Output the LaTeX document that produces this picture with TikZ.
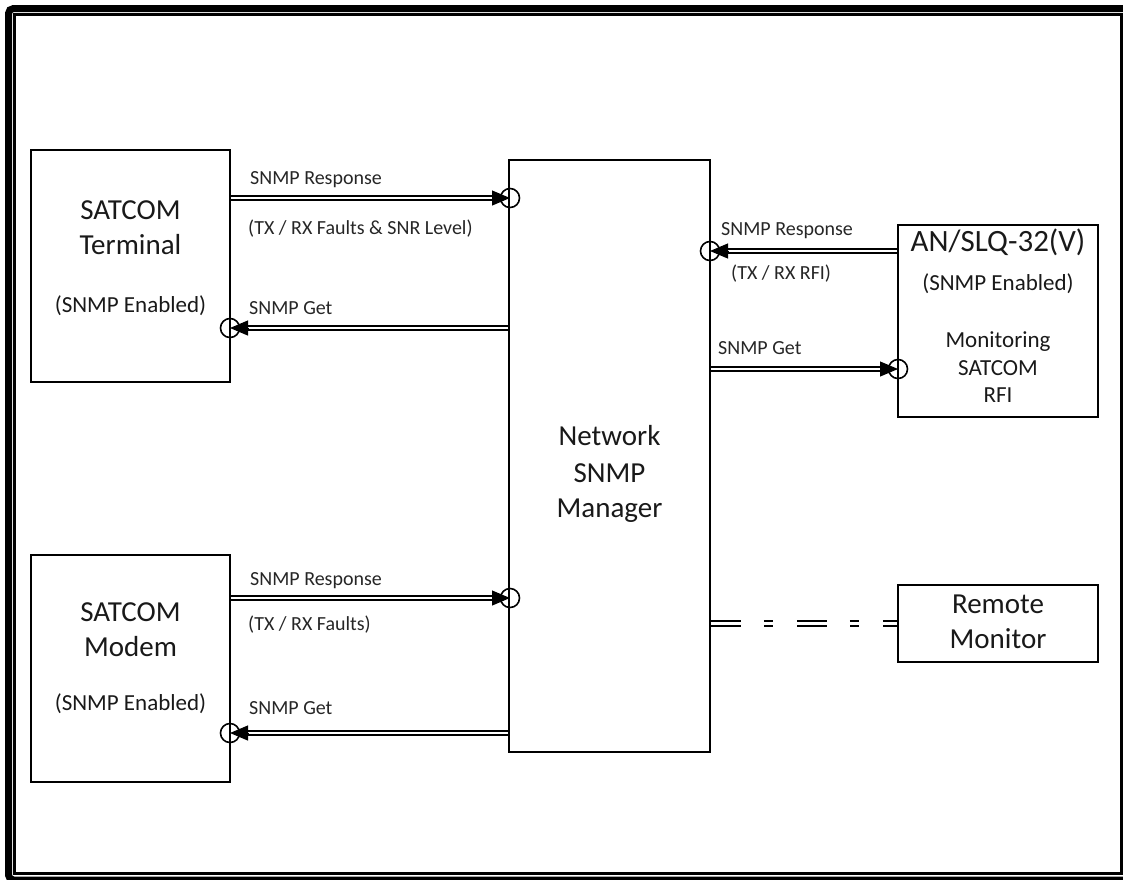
\documentclass[tikz,border=0pt]{standalone}
\usepackage{fontspec}
\setmainfont{Carlito}
\usetikzlibrary{arrows.meta}
\begin{document}
\begin{tikzpicture}[x=1pt,y=-1pt,
  box/.style={draw=black, line width=1.9pt, inner sep=0pt},
  big/.style={font=\fontsize{29}{31}\selectfont, inner sep=0pt, anchor=base, text=black!90},
  mid/.style={font=\fontsize{23}{25}\selectfont, inner sep=0pt, anchor=base, text=black!90},
  lbl/.style={font=\fontsize{20}{22}\selectfont, inner sep=0pt, anchor=base west, text=black!85},
  port/.style={circle, draw=black, line width=1.6pt, minimum size=19pt, inner sep=0pt},
  link/.style={draw=black, double=white, line width=2pt, double distance=2.5pt, shorten >=15pt},
  head/.style={draw=black, fill=black, line width=1pt, -{Triangle[length=18pt,width=15pt]}},
  dlink/.style={draw=black, double=white, line width=2pt, double distance=2.5pt, dash pattern=on 30pt off 23pt on 9pt off 24pt}]
\useasboundingbox (0,0) rectangle (1123,879);
% frame
\begin{scope}
\clip (0,0) rectangle (1123,879);
\draw[line width=7pt, rounded corners=5pt] (8.5,8.5) rectangle (1132,880);
\draw[line width=2.5pt] (14.5,14.5) rectangle (1121.5,873.5);
\end{scope}
% boxes
\node[box, minimum width=199pt, minimum height=232pt] (term) at (130.5,266) {};
\node[box, minimum width=199pt, minimum height=227pt] (modem) at (130.5,668.5) {};
\node[box, minimum width=201pt, minimum height=592pt] (mgr) at (609.5,456) {};
\node[box, minimum width=200pt, minimum height=192pt] (slq) at (998,321) {};
\node[box, minimum width=200pt, minimum height=77pt] (rem) at (998,623.5) {};
% box texts
\node[big] (t1) at (130.5,219) {SATCOM};
\node[big] (t2) at (130.5,254) {Terminal};
\node[mid] (t3) at (130.5,312) {(SNMP Enabled)};
\node[big] (m1) at (130.5,621) {SATCOM};
\node[big] (m2) at (130.5,656) {Modem};
\node[mid] (m3) at (130.5,710) {(SNMP Enabled)};
\node[big] (g1) at (609.5,445) {Network};
\node[big] (g2) at (609.5,482) {SNMP};
\node[big] (g3) at (609.5,517) {Manager};
\node[big, font=\fontsize{31}{33}\selectfont] (s1) at (998,251) {AN/SLQ-32(V)};
\node[mid] (s2) at (998,290) {(SNMP Enabled)};
\node[mid] (s3) at (998,347) {Monitoring};
\node[mid] (s4) at (998,375) {SATCOM};
\node[mid] (s5) at (998,402) {RFI};
\node[big] (r1) at (998,613) {Remote};
\node[big] (r2) at (998,648) {Monitor};
% ports
\node[port] (p1) at (510,198) {};
\node[port] (p2) at (230,328) {};
\node[port] (p3) at (710,251) {};
\node[port] (p4) at (898,369) {};
\node[port] (p5) at (510,598) {};
\node[port] (p6) at (230,733) {};
% connectors
\draw[link] (term.east |- p1) -- (p1.center);
\draw[head] ([xshift=-18pt]p1.center) -- (p1.center);
\draw[link] (mgr.west |- p2) -- (p2.center);
\draw[head] ([xshift=18pt]p2.center) -- (p2.center);
\draw[link] (slq.west |- p3) -- (p3.center);
\draw[head] ([xshift=18pt]p3.center) -- (p3.center);
\draw[link] (mgr.east |- p4) -- (p4.center);
\draw[head] ([xshift=-18pt]p4.center) -- (p4.center);
\draw[link] (modem.east |- p5) -- (p5.center);
\draw[head] ([xshift=-18pt]p5.center) -- (p5.center);
\draw[link] (mgr.west |- p6) -- (p6.center);
\draw[head] ([xshift=18pt]p6.center) -- (p6.center);
\draw[dlink] (mgr.east |- rem.west) -- (rem.west);
% labels
\node[lbl] (a1) at (250,184) {SNMP Response};
\node[lbl] (a2) at (248,234) {(TX / RX Faults \& SNR Level)};
\node[lbl] (a3) at (249,314) {SNMP Get};
\node[lbl] (b1) at (721,235) {SNMP Response};
\node[lbl] (b2) at (731,279) {(TX / RX RFI)};
\node[lbl] (b3) at (718,354) {SNMP Get};
\node[lbl] (c1) at (250,585) {SNMP Response};
\node[lbl] (c2) at (248,630) {(TX / RX Faults)};
\node[lbl] (c3) at (249,714) {SNMP Get};
\end{tikzpicture}
\end{document}
